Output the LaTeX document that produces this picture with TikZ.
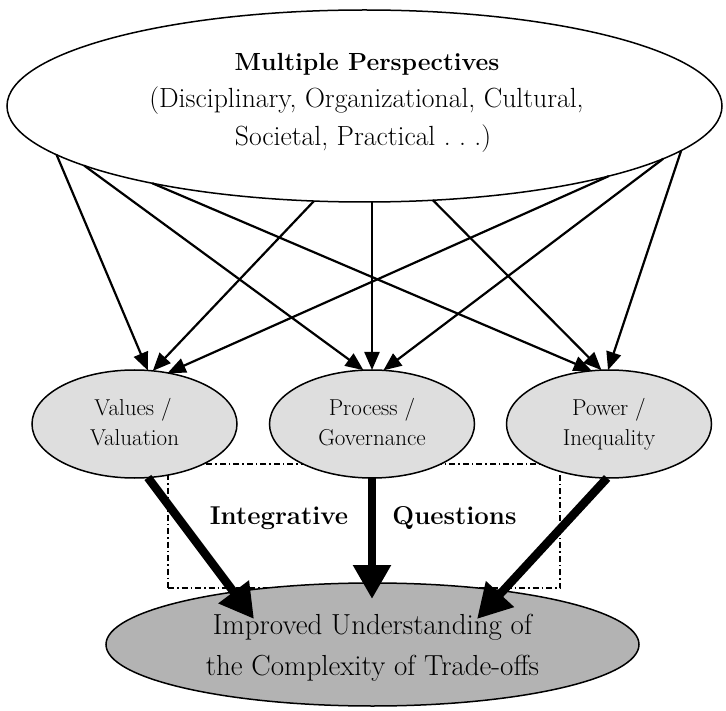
\documentclass[tikz,border=0pt]{standalone}
\usepackage{fontspec}
\usetikzlibrary{arrows.meta,shapes.geometric}
\frenchspacing
\definecolor{midgray}{HTML}{DEDEDE}
\definecolor{lowgray}{HTML}{B3B3B3}
\begin{document}
\begin{tikzpicture}[x=1pt,y=-1pt,
  ell/.style={draw, ellipse, line width=1.5pt, inner sep=0pt, outer sep=0pt},
  topell/.style={ell, fill=white, minimum width=715pt, minimum height=192pt},
  midell/.style={ell, fill=midgray, minimum width=205pt, minimum height=108pt},
  lowell/.style={ell, fill=lowgray, minimum width=533pt, minimum height=123pt},
  qbox/.style={draw, line width=1.3pt, dash pattern=on 6pt off 3pt on 1.5pt off 3pt, minimum width=392pt, minimum height=124pt, inner sep=0pt},
  thinarrow/.style={line width=2.2pt, -{Triangle[length=18pt,width=15pt]}},
  thickarrow/.style={line width=8.5pt, -{Triangle[length=34pt,width=36pt]}},
  txt/.style={anchor=base, inner sep=0pt},
  bigtxt/.style={txt, font=\fontsize{27.7}{32}\selectfont},
  titletxt/.style={txt, font=\fontsize{24.8}{29}\selectfont\bfseries},
  boldtxt/.style={txt, font=\fontsize{25.8}{30}\selectfont\bfseries},
  midtxt/.style={txt, font=\fontsize{23}{27}\selectfont},
  lowtxt/.style={txt, font=\fontsize{29}{34}\selectfont}
]
\useasboundingbox (0,0) rectangle (726,711);

% dash-dot box
\node[qbox] (Q) at (364,526) {};

% top ellipse
\node[topell] (T) at (364.5,106) {};
\node[titletxt] (t1) at (367,71) {Multiple Perspectives};
\node[bigtxt] (t2) at (366.5,108) {(Disciplinary, Organizational, Cultural,};
\node[bigtxt] (t3) at (363,146) {Societal, Practical . . .)};

% middle ellipses
\node[midell] (L) at (134.5,424) {};
\node[midell] (M) at (372,424) {};
\node[midell] (R) at (609,424) {};

% thin arrows
\draw[thinarrow] (T.189.0) -- (L.76);
\draw[thinarrow] (T.242.2) -- (L.71);
\draw[thinarrow] (T.344.2) -- (L.57);
\draw[thinarrow] (T.192.5) -- (M.99);
\draw[thinarrow] (T.south -| M.north) -- (M.north);
\draw[thinarrow] (T.350.5) -- (M.78);
\draw[thinarrow] (T.200.9) -- (R.108);
\draw[thinarrow] (T.306.9) -- (R.98.5);
\draw[thinarrow] (T.352.6) -- (R.91);

\node[midtxt] (l1) at (133,415) {Values /};
\node[midtxt] (l2) at (134.5,445) {Valuation};
\node[midtxt] (m1) at (372,415) {Process /};
\node[midtxt] (m2) at (372,445) {Governance};
\node[midtxt] (r1) at (609,415) {Power /};
\node[midtxt] (r2) at (609,445) {Inequality};

% bottom ellipse
\node[lowell] (B) at (372.5,644.5) {};
\node[lowtxt] (b1) at (372.5,634) {Improved Understanding of};
\node[lowtxt] (b2) at (372.5,675) {the Complexity of Trade-offs};

% box labels
\node[boldtxt] (q1) at (279,524) {Integrative};
\node[boldtxt] (q2) at (454.5,524) {Questions};

% thick arrows
\coordinate (tL) at (254,619);
\coordinate (tM) at (372,599);
\coordinate (tR) at (477,619);
\draw[thickarrow] (L.284) -- (tL);
\draw[thickarrow] (M.south) -- (tM);
\draw[thickarrow] (R.268) -- (tR);
\end{tikzpicture}
\end{document}
